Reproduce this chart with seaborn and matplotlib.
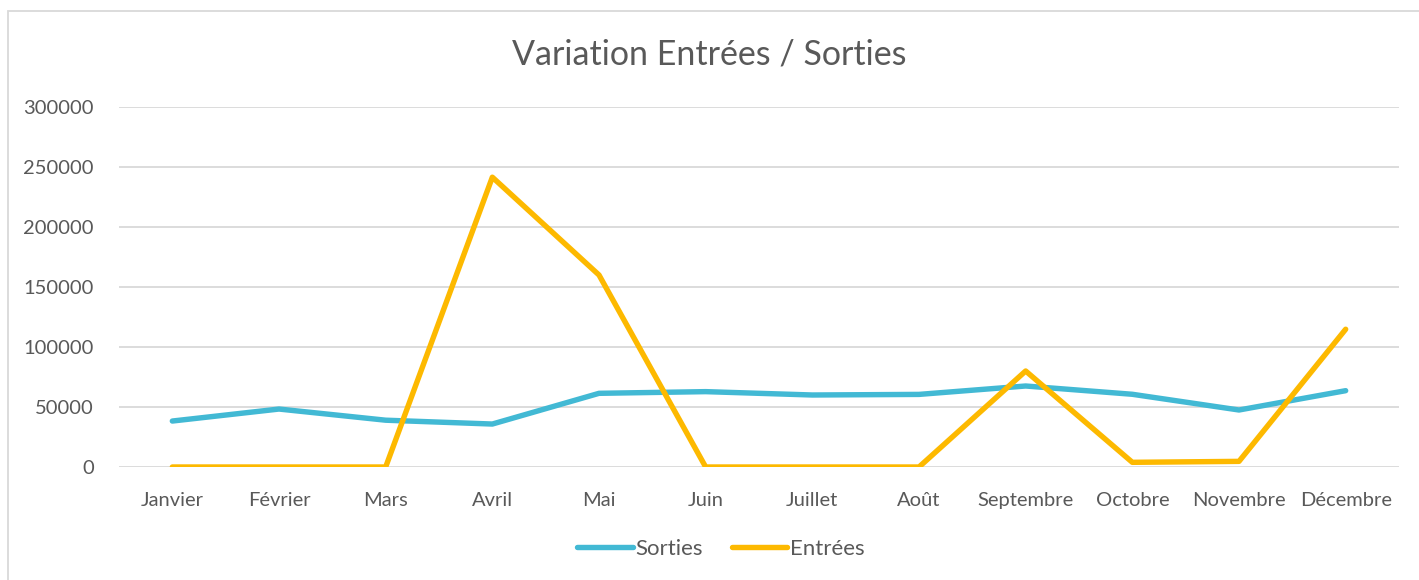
import matplotlib
matplotlib.use("Agg")
import matplotlib.pyplot as plt
import seaborn as sns
import pandas as pd
from matplotlib.lines import Line2D

# data
mois = ['Janvier', 'Février', 'Mars', 'Avril', 'Mai', 'Juin', 'Juillet',
        'Août', 'Septembre', 'Octobre', 'Novembre', 'Décembre']
sorties = [38300, 48300, 39000, 35800, 61400, 62800, 60000, 60500, 67500, 60600, 47500, 63600]
entrees = [0, 0, 0, 241500, 160000, 0, 0, 0, 80000, 3900, 4700, 114800]
yticks = [0, 50000, 100000, 150000, 200000, 250000, 300000]

df = pd.DataFrame({
    'Mois': mois * 2,
    'Valeur': sorties + entrees,
    'Série': ['Sorties'] * len(mois) + ['Entrées'] * len(mois),
})

sns.set_theme(style='white')
plt.rcParams['font.family'] = ['Lato', 'DejaVu Sans']
text_color = '#595959'
palette = {'Sorties': '#42B9D4', 'Entrées': '#FDB900'}

fig = plt.figure(figsize=(14.19, 5.80), dpi=100)
ax = fig.add_axes([119 / 1419, 1 - 467 / 580, (1399 - 119) / 1419, (467 - 107) / 580])

sns.lineplot(data=df, x='Mois', y='Valeur', hue='Série', palette=palette,
             linewidth=3.9, sort=False, ax=ax, legend=False)
for line in ax.lines:
    line.set_solid_joinstyle('round')
    line.set_solid_capstyle('round')

ax.set_xlim(-0.5, len(mois) - 0.5)
ax.set_ylim(0, 300000)
ax.set_yticks(yticks)
ax.set_yticklabels([str(v) for v in yticks])
ax.set_xticks(range(len(mois)))
ax.set_xticklabels(mois)
ax.set_xlabel('')
ax.set_ylabel('')
ax.tick_params(axis='both', length=0, labelsize=14.5, colors=text_color)
ax.tick_params(axis='x', pad=18)
ax.tick_params(axis='y', pad=18)
ax.grid(axis='y', color='#D9D9D9', linewidth=1.3)
ax.set_axisbelow(True)
for s in ax.spines.values():
    s.set_visible(False)

fig.text(0.5, 1 - 55 / 580, 'Variation Entrées / Sorties', ha='center', va='center',
         fontsize=24.5, color=text_color)

# legend under the plot
handles = [Line2D([0], [0], color=palette[k], linewidth=3.9, solid_capstyle='round')
           for k in ['Sorties', 'Entrées']]
fig.legend(handles, ['Sorties', 'Entrées'], loc='center', bbox_to_anchor=(0.508, 1 - 549 / 580),
           ncol=2, frameon=False, fontsize=16, handlelength=2.5, handletextpad=0.12,
           columnspacing=1.3, labelcolor=text_color)

# chart border
fig.patches.append(plt.Rectangle((8 / 1419, -0.05), 1.1, 1 - 11 / 580 + 0.05,
                                 transform=fig.transFigure, fill=False,
                                 edgecolor='#D9D9D9', linewidth=1.3))

fig.savefig('out.png', dpi=100, facecolor='white')
